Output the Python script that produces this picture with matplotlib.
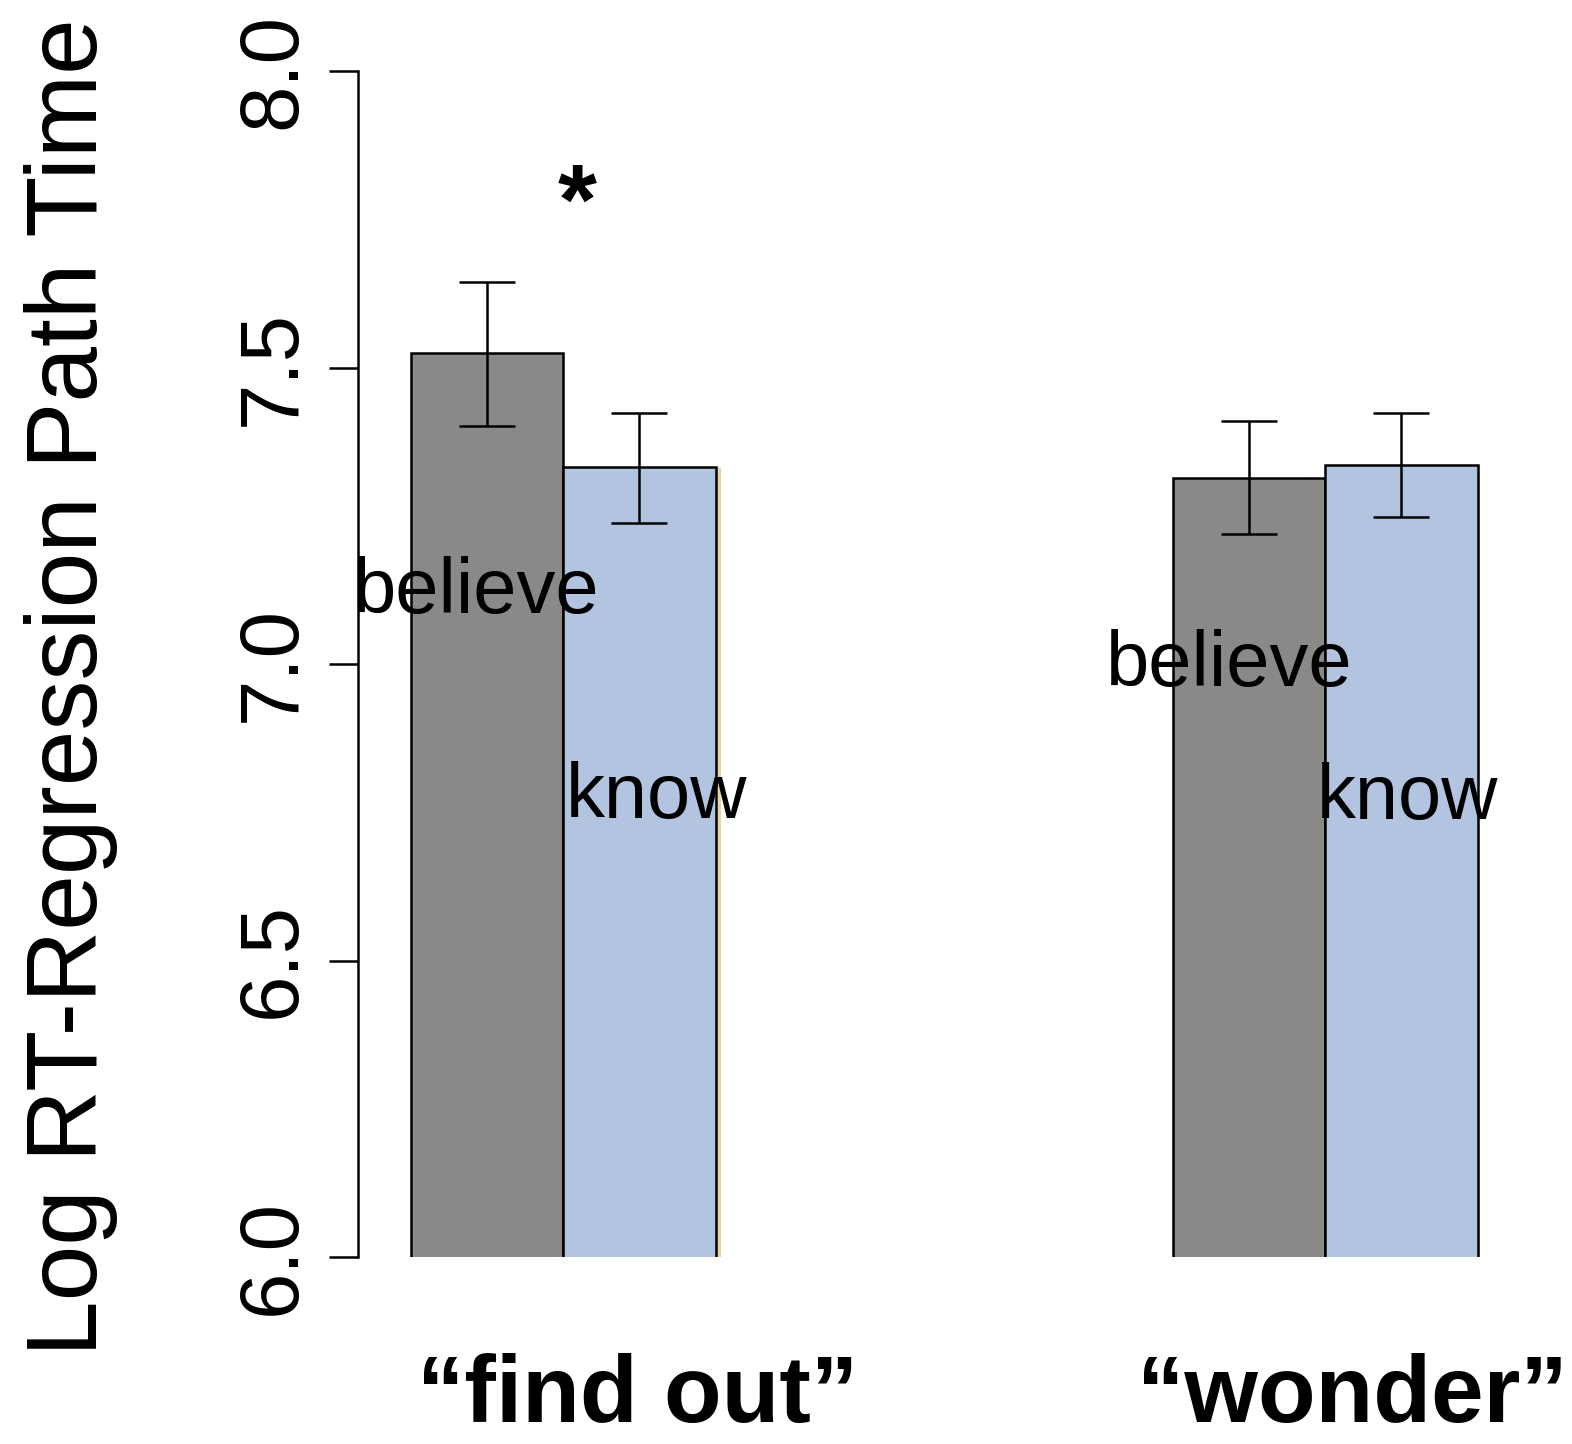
import matplotlib

matplotlib.use("Agg")
import matplotlib.pyplot as plt

# values (log RT, regression path time)
groups = ["\u201cfind out\u201d", "\u201cwonder\u201d"]
conditions = ["believe", "know"]
means = [[7.524, 7.332], [7.314, 7.336]]
err_low = [[7.401, 7.238], [7.219, 7.248]]
err_high = [[7.644, 7.423], [7.410, 7.423]]
yticks = [6.0, 6.5, 7.0, 7.5, 8.0]

colors = ["#8b8888", "#b2c4df"]
lw = 1.8

fig = plt.figure(figsize=(15.72, 14.44), dpi=100)
ax = fig.add_axes([358 / 1572, 187 / 1444, 1214 / 1572, 1186 / 1444])

group_starts = [0, 5]
for g, start in enumerate(group_starts):
    xs = [start + i for i in range(len(conditions))]
    ax.bar(xs, means[g], width=1.0, bottom=0, color=colors, edgecolor="black",
           linewidth=lw, zorder=2)
    lower = [m - lo for m, lo in zip(means[g], err_low[g])]
    upper = [hi - m for m, hi in zip(means[g], err_high[g])]
    ax.errorbar(xs, means[g], yerr=[lower, upper], fmt="none", ecolor="black",
                elinewidth=lw, capsize=20, capthick=lw, zorder=3)

# thin tan edge artefact at the right of the first "know" bar
ax.vlines(1.525, 6.0, means[0][1], color="#e9d3a6", linewidth=2.2, zorder=1)

# condition labels written over the bars
label_offsets = {
    (0, 0): (-0.07, 7.086), (0, 1): (0.11, 6.740),
    (1, 0): (-0.13, 6.963), (1, 1): (0.04, 6.739),
}
for g, start in enumerate(group_starts):
    for i, cond in enumerate(conditions):
        dx, y = label_offsets[(g, i)]
        ax.text(start + i + dx, y, cond, ha="center", va="baseline",
                fontsize=56, family=["Liberation Sans", "DejaVu Sans"], zorder=4)

# group names under the axis
group_label_x = [0.99, 5.68]
for name, x in zip(groups, group_label_x):
    ax.text(x, 5.722, name, ha="center", va="baseline", fontsize=68,
            fontweight="bold", family=["Liberation Sans", "DejaVu Sans"], clip_on=False)

# significance marker
ax.text(0.59, 7.726, "*", ha="center", va="baseline", fontsize=72,
        fontweight="bold", family=["Liberation Sans", "DejaVu Sans"])

ax.set_xlim(-0.846, 7.119)
ax.set_ylim(6.0, 8.0)
ax.set_yticks(yticks)
ax.set_yticklabels([f"{t:.1f}" for t in yticks], rotation=90, va="center",
                   fontsize=60, family=["Liberation Sans Narrow", "Liberation Sans"])
ax.tick_params(axis="y", length=21, width=lw, pad=12)
ax.set_xticks([])
for side in ["top", "right", "bottom"]:
    ax.spines[side].set_visible(False)
ax.spines["left"].set_linewidth(lw)
ax.spines["left"].set_bounds(6.0, 8.0)
ax.patch.set_visible(False)

fig.text(97 / 1572, 1 - 687 / 1444, "Log RT-Regression Path Time", rotation=90,
         rotation_mode="anchor", ha="center", va="baseline", fontsize=72,
         family=["Liberation Sans", "DejaVu Sans"])

fig.savefig("out.png", dpi=100)
plt.close(fig)
